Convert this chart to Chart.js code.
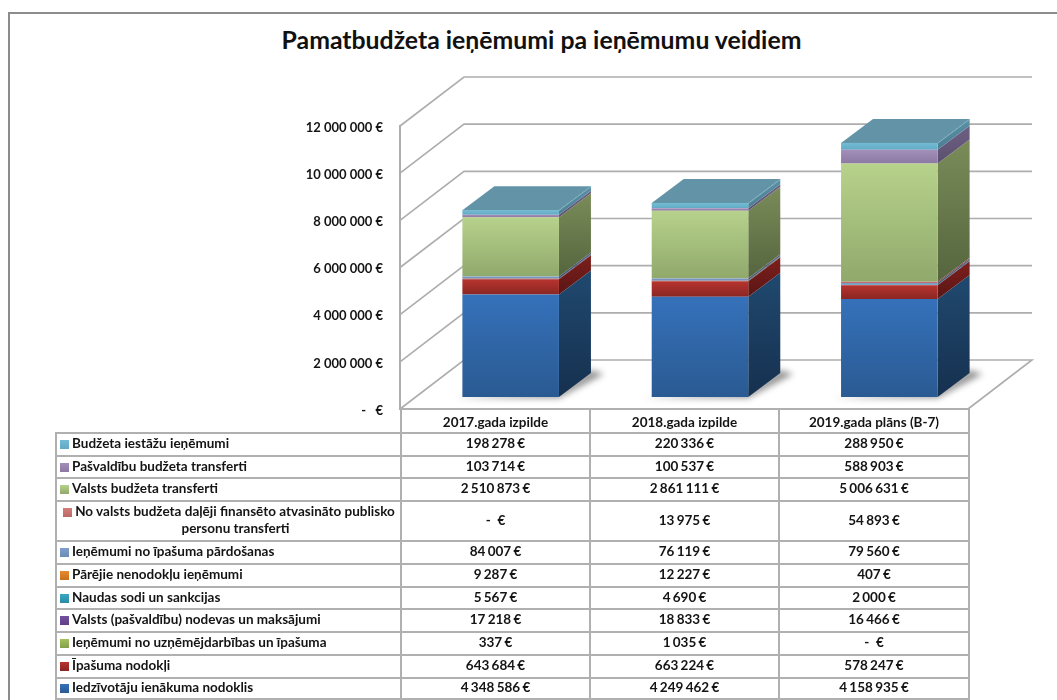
<!DOCTYPE html>
<html lang="lv">
  <head>
    <meta charset="UTF-8" />
    <title>Pamatbudžeta ieņēmumi pa ieņēmumu veidiem</title>
    <script src="https://cdn.jsdelivr.net/npm/chart.js"></script>
    <style>
      html, body { margin: 0; background: #fff; overflow: hidden; }
      body { width: 1057px; height: 700px; position: relative; font-family: Lato, sans-serif; color: #141414; }
      .moldura { position: absolute; left: 8px; top: 12px; right: 0; bottom: 0; border-left: 2px solid #8c8c8c; border-top: 2px solid #8c8c8c; }
      h1 { position: absolute; left: 0; width: 1083px; top: 23px; margin: 0; text-align: center; font-size: 24.8px; line-height: 34px; font-weight: 700; color: #111; }
      canvas { position: absolute; left: 0; top: 0; }
      table { position: absolute; left: 55px; top: 408px; width: 914px; table-layout: fixed; border-collapse: collapse; font-size: 13.5px; font-weight: 700; line-height: 17px; }
      td, th { border: 2px solid #b0b0b0; text-align: center; font-weight: 700; white-space: pre; word-spacing: -1px; }
      td { padding: 0 0 2px 0; }
      th { padding: 2px 0 0 0; word-spacing: 0; }
      td.nome { text-align: left; padding-left: 3px; white-space: normal; word-spacing: 0; }
      td.nome.longo { text-align: center; padding-left: 14px; text-indent: -13px; }
      th.vazio { border: none; border-right: 2px solid #b0b0b0; border-bottom: 2px solid #b0b0b0; }
      .cor { display: inline-block; width: 9px; height: 9px; margin-right: 3px; vertical-align: -1px; }
    </style>
  </head>

  <body>
    <div class="moldura"></div>
    <h1>Pamatbudžeta ieņēmumi pa ieņēmumu veidiem</h1>
    <canvas id="myChart" width="1057" height="700"></canvas>
    <table id="tabela"></table>

    <script>
      var categories = ["2017.gada izpilde", "2018.gada izpilde", "2019.gada plāns (B-7)"];

      // series, bottom of the stack first
      var iedzivotaju = [4348586, 4249462, 4158935];
      var ipasumaNodokli = [643684, 663224, 578247];
      var uznemejdarbiba = [337, 1035, 0];
      var nodevas = [17218, 18833, 16466];
      var naudasSodi = [5567, 4690, 2000];
      var parejie = [9287, 12227, 407];
      var ipasumaPardosana = [84007, 76119, 79560];
      var atvasinato = [0, 13975, 54893];
      var valstsTransferti = [2510873, 2861111, 5006631];
      var pasvaldibu = [103714, 100537, 588903];
      var iestazu = [198278, 220336, 288950];

      var seriesNames = [
        "Iedzīvotāju ienākuma nodoklis",
        "Īpašuma nodokļi",
        "Ieņēmumi no uzņēmējdarbības un īpašuma",
        "Valsts (pašvaldību) nodevas un maksājumi",
        "Naudas sodi un sankcijas",
        "Pārējie nenodokļu ieņēmumi",
        "Ieņēmumi no īpašuma pārdošanas",
        "No valsts budžeta daļēji finansēto atvasināto publisko personu transferti",
        "Valsts budžeta transferti",
        "Pašvaldību budžeta transferti",
        "Budžeta iestāžu ieņēmumi"
      ];
      var seriesValues = [iedzivotaju, ipasumaNodokli, uznemejdarbiba, nodevas, naudasSodi, parejie,
        ipasumaPardosana, atvasinato, valstsTransferti, pasvaldibu, iestazu];

      var yTicks = [0, 2000000, 4000000, 6000000, 8000000, 10000000, 12000000];

      // [front top, front bottom, side top, side bottom]
      var seriesColors = [
        ["#3571ba", "#2a5a92", "#20496f", "#16304f"],
        ["#b8342f", "#8a2623", "#7d1f1d", "#5a1614"],
        ["#a3c15c", "#84a048", "#6f8439", "#55662b"],
        ["#7450a0", "#5f4085", "#4c3469", "#3b2852"],
        ["#38a8c4", "#2b8aa3", "#256e82", "#1c5464"],
        ["#e88a2c", "#c76f1c", "#9b5615", "#7a4310"],
        ["#7f9fcc", "#6c8ab5", "#4f6688", "#3e5170"],
        ["#d27d7a", "#bb6865", "#8e4c4a", "#733c3a"],
        ["#b7d28b", "#90a96c", "#7a8c59", "#55653e"],
        ["#a38fba", "#8b78a3", "#6e6084", "#5b4f6e"],
        ["#74bcd4", "#62a9c3", "#5a8fa3", "#4d7f93"]
      ];

      var gridColor = "#adadad";
      var wallDepth = { x: 64, y: 49 };   // walls, front plane to back
      var barShift = { x: 16, y: 12 };    // bars stand a bit behind the front plane
      var barDepth = { x: 32, y: 24 };
      var rowHeights = [24, 23, 22, 23, 40, 23, 23, 22, 23, 23, 23, 21];

      function euro(v) {
        if (v === 0) return "-   €";
        return String(v).replace(/\B(?=(\d{3})+(?!\d))/g, " ") + " €";
      }

      // each stack segment has its own top to bottom gradient
      function frontFill(c) {
        var colors = seriesColors[c.datasetIndex];
        if (c.type !== "data") return colors[0];
        var low = 0;
        for (var i = 0; i < c.datasetIndex; i++) {
          low += seriesValues[i][c.dataIndex];
        }
        var high = low + seriesValues[c.datasetIndex][c.dataIndex];
        var y = c.chart.scales.y;
        // scales are not laid out yet the first time this runs
        if (!y || !isFinite(y.getPixelForValue(high))) return colors[0];
        var g = c.chart.ctx.createLinearGradient(0, y.getPixelForValue(high), 0, y.getPixelForValue(low));
        g.addColorStop(0, colors[0]);
        g.addColorStop(1, colors[1]);
        return g;
      }

      function poly(ctx, pts) {
        ctx.beginPath();
        ctx.moveTo(pts[0][0], pts[0][1]);
        for (var i = 1; i < pts.length; i++) ctx.lineTo(pts[i][0], pts[i][1]);
        ctx.closePath();
      }

      function drawWalls(chart) {
        var ctx = chart.ctx;
        var area = chart.chartArea;
        var y = chart.scales.y;
        ctx.save();
        ctx.strokeStyle = gridColor;
        ctx.lineWidth = 1.6;
        yTicks.forEach(function (v) {
          var py = y.getPixelForValue(v);
          ctx.beginPath();
          ctx.moveTo(area.left, py);
          ctx.lineTo(area.left + wallDepth.x, py - wallDepth.y);
          ctx.lineTo(area.right + wallDepth.x, py - wallDepth.y);
          if (v === 0) ctx.lineTo(area.right, py);
          ctx.stroke();
        });
        ctx.restore();
      }

      function drawBarSides(chart) {
        var ctx = chart.ctx;
        var dx = barDepth.x;
        var dy = barDepth.y;

        categories.forEach(function (cat, i) {
          var first = chart.getDatasetMeta(0).data[i];
          var left = first.x - first.width / 2;
          var right = first.x + first.width / 2;

          // shadow on the floor
          ctx.save();
          ctx.filter = "blur(3px)";
          ctx.fillStyle = "rgba(0,0,0,0.42)";
          poly(ctx, [[left - 8, first.base + 1], [right, first.base + 1],
            [right + dx + 13, first.base - dy + 1], [right + dx, first.base - dy - 3], [right, first.base - 6]]);
          ctx.fill();
          ctx.restore();

          var topY = first.base;
          seriesValues.forEach(function (values, d) {
            if (!values[i]) return;
            var bar = chart.getDatasetMeta(d).data[i];
            var g = ctx.createLinearGradient(0, bar.y - dy, 0, bar.base);
            g.addColorStop(0, seriesColors[d][2]);
            g.addColorStop(1, seriesColors[d][3]);
            ctx.fillStyle = g;
            poly(ctx, [[right, bar.y], [right + dx, bar.y - dy], [right + dx, bar.base - dy], [right, bar.base]]);
            ctx.fill();
            topY = Math.min(topY, bar.y);
          });

          // top of the stack
          ctx.fillStyle = "#6293a6";
          poly(ctx, [[left, topY], [left + dx, topY - dy], [right + dx, topY - dy], [right, topY]]);
          ctx.fill();
          ctx.strokeStyle = "#79b0c4";
          ctx.lineWidth = 1;
          ctx.beginPath();
          ctx.moveTo(left, topY + 0.5);
          ctx.lineTo(right, topY + 0.5);
          ctx.lineTo(right + dx, topY - dy + 0.5);
          ctx.stroke();
        });
      }

      var perspectiva = {
        id: "perspectiva",
        beforeDatasetsDraw: function (chart) {
          drawWalls(chart);
          chart.ctx.save();
          chart.ctx.translate(barShift.x, -barShift.y);
          drawBarSides(chart);
        },
        afterDatasetsDraw: function (chart) {
          chart.ctx.restore();
        }
      };

      function montarTabela() {
        var tabela = document.getElementById("tabela");
        var cols = document.createElement("colgroup");
        [345, 189, 189, 190].forEach(function (w) {
          var col = document.createElement("col");
          col.style.width = w + "px";
          cols.appendChild(col);
        });
        tabela.appendChild(cols);

        var head = tabela.insertRow();
        head.style.height = rowHeights[0] + "px";
        var vazio = document.createElement("th");
        vazio.className = "vazio";
        head.appendChild(vazio);
        categories.forEach(function (cat) {
          var th = document.createElement("th");
          th.textContent = cat;
          head.appendChild(th);
        });

        for (var d = seriesNames.length - 1; d >= 0; d--) {
          var row = tabela.insertRow();
          row.style.height = rowHeights[seriesNames.length - d] + "px";
          var nome = row.insertCell();
          nome.className = seriesNames[d].length > 50 ? "nome longo" : "nome";
          var cor = document.createElement("span");
          cor.className = "cor";
          cor.style.background = "linear-gradient(" + seriesColors[d][0] + ", " + seriesColors[d][1] + ")";
          nome.appendChild(cor);
          nome.appendChild(document.createTextNode(seriesNames[d]));
          seriesValues[d].forEach(function (v) {
            row.insertCell().textContent = euro(v);
          });
        }
      }

      montarTabela();

      var datasets = [];
      for (var s = 0; s < seriesNames.length; s++) {
        datasets.push({
          label: seriesNames[s],
          data: seriesValues[s],
          backgroundColor: frontFill,
          borderWidth: 0,
          categoryPercentage: 1,
          barPercentage: 0.51
        });
      }

      new Chart(document.getElementById("myChart"), {
        type: "bar",
        data: { labels: categories, datasets: datasets },
        plugins: [perspectiva],
        options: {
          responsive: false,
          animation: false,
          layout: { padding: { top: 126, right: 89, bottom: 291, left: 0 } },
          plugins: { legend: { display: false }, tooltip: { enabled: false } },
          scales: {
            x: { stacked: true, display: false },
            y: {
              stacked: true,
              min: 0,
              max: 12000000,
              afterFit: function (scale) { scale.width = 400; },
              grid: { display: false, drawTicks: false },
              border: { display: true, color: gridColor, width: 2 },
              ticks: {
                stepSize: 2000000,
                padding: 17,
                labelOffset: 1.5,
                color: "#141414",
                font: { family: "Lato", size: 13, weight: "700" },
                callback: function (v) { return euro(v); }
              }
            }
          }
        }
      });
    </script>
  </body>
</html>
